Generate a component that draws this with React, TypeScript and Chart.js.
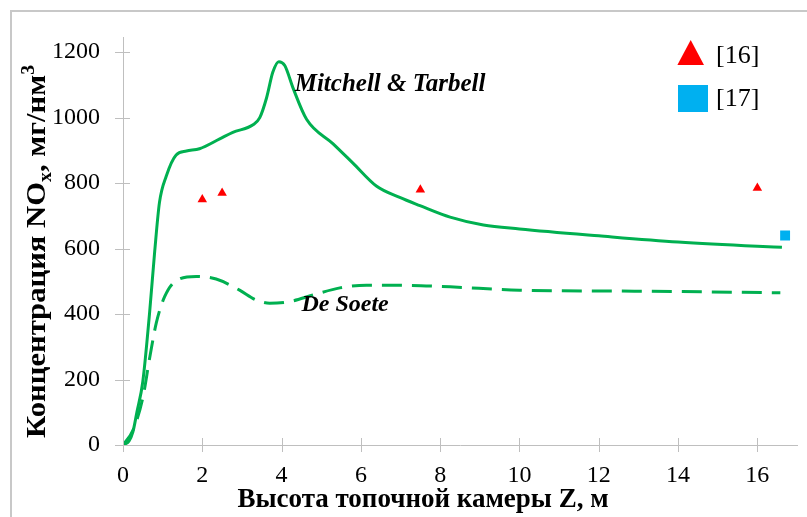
import React, { useEffect, useRef } from 'react';
import { Chart, registerables } from 'chart.js';

Chart.register(...registerables);

// ---- data ----
const mitchellZ = [0, 0.15, 0.25, 0.35, 0.5, 0.67, 0.8, 0.92, 1.09, 1.34, 1.6, 1.93, 2.44, 2.77, 3.28, 3.45, 3.62, 3.78, 3.93, 4.08, 4.29, 4.63, 5.3, 5.8, 6.39, 6.98, 7.49, 8.25, 9.09, 10, 12, 14, 16, 16.62];
const mitchellNOx = [0, 12, 40, 100, 194, 403, 592, 741, 821, 886, 898, 905, 935, 955, 978, 1000, 1060, 1139, 1171, 1159, 1090, 995, 920, 861, 791, 756, 731, 696, 672, 660, 639, 620, 607, 604];
const deSoeteZ = [0, 0.25, 0.5, 0.67, 0.84, 1.05, 1.34, 1.85, 2.35, 2.94, 3.36, 3.7, 4.2, 4.79, 5.47, 6.14, 6.98, 8.25, 10, 12.9, 16.58];
const deSoeteNOx = [0, 45, 144, 264, 373, 453, 502, 515, 507, 473, 443, 433, 438, 458, 480, 488, 488, 483, 473, 470, 465];
const ref16Z = [2, 2.5, 7.5, 16];
const ref16NOx = [750, 770, 780, 785];
const ref17Z = [16.7];
const ref17NOx = [640];

const legendLabels = ['[16]', '[17]'];
const curveLabels = ['Mitchell & Tarbell', 'De Soete'];
const curveLabelPos = [[4.33, 1100], [4.5, 428]];
const xTitle = 'Высота топочной камеры Z, м';
const yTitleMain = 'Концентрация NO';
const yTitleSub = 'x';
const yTitleMid = ', мг/нм';
const yTitleSup = '3';

const X_MIN = 0, X_MAX = 17, X_STEP = 2;
const Y_MIN = 0, Y_MAX = 1245, Y_STEP = 200;

const GREEN = '#00b050';
const RED = '#ff0000';
const CYAN = '#00b0f0';
const AXIS = '#bfbfbf';
const SERIF = '"Liberation Serif", "Times New Roman", serif';

const zip = (xs: number[], ys: number[]) => xs.map((x, i) => ({ x, y: ys[i] }));

const framePlugin = {
  id: 'frame',
  beforeDraw(chart: any) {
    const ctx = chart.ctx;
    ctx.save();
    ctx.fillStyle = '#ffffff';
    ctx.fillRect(0, 0, chart.width, chart.height);
    ctx.strokeStyle = '#c8c8c8';
    ctx.lineWidth = 2;
    ctx.beginPath();
    ctx.moveTo(11, chart.height);
    ctx.lineTo(11, 11);
    ctx.lineTo(chart.width, 11);
    ctx.stroke();
    ctx.restore();
  },
};

const crossTicksPlugin = {
  id: 'crossTicks',
  afterDraw(chart: any) {
    const ctx = chart.ctx;
    const xs = chart.scales.x;
    const ys = chart.scales.y;
    const area = chart.chartArea;
    ctx.save();
    ctx.strokeStyle = AXIS;
    ctx.lineWidth = 1;
    ctx.beginPath();
    xs.ticks.forEach((t: any) => {
      const px = Math.round(xs.getPixelForValue(t.value)) + 0.5;
      ctx.moveTo(px, area.bottom - 7);
      ctx.lineTo(px, area.bottom + 7);
    });
    ys.ticks.forEach((t: any) => {
      const py = Math.round(ys.getPixelForValue(t.value)) + 0.5;
      ctx.moveTo(area.left - 8, py);
      ctx.lineTo(area.left + 7, py);
    });
    ctx.stroke();
    ctx.restore();
  },
};

const textPlugin = {
  id: 'texts',
  afterDraw(chart: any) {
    const ctx = chart.ctx;
    const xs = chart.scales.x;
    const ys = chart.scales.y;
    ctx.save();
    ctx.fillStyle = '#000';

    // curve labels
    ctx.textBaseline = 'middle';
    ctx.textAlign = 'left';
    curveLabels.forEach((lbl, i) => {
      const [vx, vy] = curveLabelPos[i];
      ctx.font = `italic bold ${i === 0 ? 25 : 24}px ${SERIF}`;
      ctx.fillText(lbl, xs.getPixelForValue(vx), ys.getPixelForValue(vy));
    });

    // x title
    ctx.font = `bold 27px ${SERIF}`;
    ctx.textAlign = 'center';
    ctx.textBaseline = 'middle';
    ctx.fillText(xTitle, 423, 500);

    // y title (rotated, with subscript and superscript)
    const big = `bold 28px ${SERIF}`;
    const small = `bold 18px ${SERIF}`;
    const parts: [string, string, number][] = [
      [yTitleMain, big, 0],
      [yTitleSub, small, 6],
      [yTitleMid, big, 0],
      [yTitleSup, small, -11],
    ];
    let total = 0;
    parts.forEach(([t, f]) => { ctx.font = f; total += ctx.measureText(t).width; });
    const target = 373;
    ctx.translate(45, 251.5);
    ctx.rotate(-Math.PI / 2);
    ctx.scale(target / total, 1);
    ctx.textAlign = 'left';
    ctx.textBaseline = 'alphabetic';
    let cx = -total / 2;
    parts.forEach(([t, f, dy]) => {
      ctx.font = f;
      ctx.fillText(t, cx, dy);
      cx += ctx.measureText(t).width;
    });
    ctx.restore();

    // legend
    ctx.save();
    ctx.fillStyle = RED;
    ctx.beginPath();
    ctx.moveTo(690.7, 40);
    ctx.lineTo(704, 65);
    ctx.lineTo(677.4, 65);
    ctx.closePath();
    ctx.fill();
    ctx.fillStyle = CYAN;
    ctx.fillRect(678, 85, 30, 27);
    ctx.fillStyle = '#000';
    ctx.font = `26px ${SERIF}`;
    ctx.textAlign = 'left';
    ctx.textBaseline = 'middle';
    ctx.fillText(legendLabels[0], 716, 56);
    ctx.fillText(legendLabels[1], 716, 99);
    ctx.restore();
  },
};

export default function App() {
  const canvasRef = useRef<HTMLCanvasElement | null>(null);

  useEffect(() => {
    document.body.style.margin = '0';
    const canvas = canvasRef.current;
    if (!canvas) return;
    const chart = new Chart(canvas, {
      type: 'line',
      data: {
        datasets: [
          {
            label: curveLabels[0],
            data: zip(mitchellZ, mitchellNOx),
            borderColor: GREEN,
            borderWidth: 3,
            pointRadius: 0,
            cubicInterpolationMode: 'monotone',
            fill: false,
          },
          {
            label: curveLabels[1],
            data: zip(deSoeteZ, deSoeteNOx),
            borderColor: GREEN,
            borderWidth: 3,
            borderDash: [20, 10],
            pointRadius: 0,
            cubicInterpolationMode: 'monotone',
            fill: false,
          },
          {
            label: legendLabels[0],
            data: zip(ref16Z, ref16NOx),
            showLine: false,
            pointStyle: 'triangle',
            pointRadius: 5.5,
            backgroundColor: RED,
            borderColor: RED,
            borderWidth: 0,
          },
          {
            label: legendLabels[1],
            data: zip(ref17Z, ref17NOx),
            showLine: false,
            pointStyle: 'rect',
            pointRadius: 7,
            backgroundColor: CYAN,
            borderColor: CYAN,
            borderWidth: 0,
          },
        ],
      },
      options: {
        responsive: false,
        animation: false,
        events: [],
        layout: { padding: { top: 28, right: 10, left: 0, bottom: 0 } },
        plugins: { legend: { display: false }, tooltip: { enabled: false } },
        scales: {
          x: {
            type: 'linear',
            min: X_MIN,
            max: X_MAX,
            grid: { display: false, drawTicks: false },
            border: { display: true, color: AXIS, width: 1 },
            ticks: {
              stepSize: X_STEP,
              includeBounds: false,
              padding: 16,
              color: '#000',
              font: { family: SERIF, size: 24 },
              maxRotation: 0,
              callback: (v: any) => String(v),
            },
            afterFit(scale: any) { scale.height = 72; },
          },
          y: {
            type: 'linear',
            min: Y_MIN,
            max: Y_MAX,
            grid: { display: false, drawTicks: false },
            border: { display: true, color: AXIS, width: 1 },
            ticks: {
              stepSize: Y_STEP,
              includeBounds: false,
              padding: 23,
              color: '#000',
              font: { family: SERIF, size: 24 },
              callback: (v: any) => String(v),
            },
            afterFit(scale: any) { scale.width = 123; },
          },
        },
      },
      plugins: [framePlugin, crossTicksPlugin, textPlugin],
    } as any);
    return () => chart.destroy();
  }, []);

  return (
    <div style={{ position: 'fixed', left: 0, top: 0, width: 807, height: 517 }}>
      <canvas ref={canvasRef} width={807} height={517} style={{ width: 807, height: 517, display: 'block' }} />
    </div>
  );
}
